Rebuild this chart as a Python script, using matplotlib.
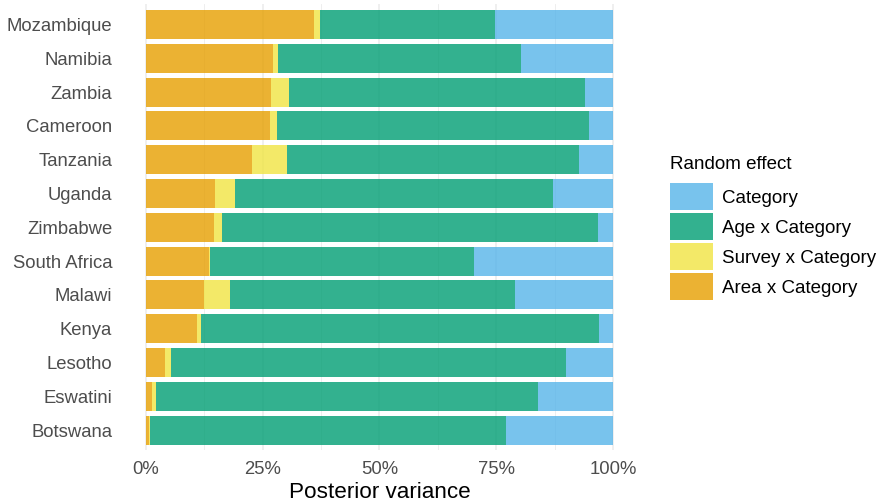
import matplotlib.pyplot as plt
import matplotlib.patches as mpatches
import numpy as np

plt.rcParams['font.family'] = ['Liberation Sans', 'DejaVu Sans']

countries = ["Mozambique", "Namibia", "Zambia", "Cameroon", "Tanzania", "Uganda",
             "Zimbabwe", "South Africa", "Malawi", "Kenya", "Lesotho", "Eswatini", "Botswana"]

# shares in percent
area = [36.0, 27.3, 26.8, 26.6, 22.8, 14.8, 14.6, 13.6, 12.5, 11.0, 4.1, 1.4, 0.7]
survey = [1.3, 0.9, 3.8, 1.5, 7.3, 4.3, 1.7, 0.1, 5.5, 0.7, 1.3, 0.7, 0.2]
age = [37.4, 52.1, 63.4, 66.7, 62.6, 68.0, 80.4, 56.5, 61.0, 85.4, 84.5, 81.8, 76.1]
category = [100 - a - s - g for a, s, g in zip(area, survey, age)]

labels = ["Category", "Age x Category", "Survey x Category", "Area x Category"]
colors = ["#56B4E9", "#009E73", "#F0E442", "#E69F00"]

fig = plt.figure(figsize=(8.82, 5.04), dpi=100)
ax = fig.add_axes([0.139, 0.1065, 0.5825, 0.885])

y = np.arange(len(countries))[::-1]
left = np.zeros(len(countries))
# stack from the left: area, survey, age, category
for vals, col in [(area, colors[3]), (survey, colors[2]), (age, colors[1]), (category, colors[0])]:
    vals = np.array(vals) / 100
    ax.barh(y, vals, left=left, height=0.86, color=col, alpha=0.8, linewidth=0, zorder=2)
    left = left + vals

ax.set_xlim(-0.05, 1.05)
ax.set_ylim(-0.6, len(countries) - 0.4)
ax.set_yticks(y)
ax.set_yticklabels(countries)
ax.set_xticks([0, 0.25, 0.5, 0.75, 1.0])
ax.set_xticklabels(["0%", "25%", "50%", "75%", "100%"])
ax.set_xticks([0.125, 0.375, 0.625, 0.875], minor=True)
ax.grid(axis='x', which='major', color='#EBEBEB', linewidth=1.1, zorder=0)
ax.grid(axis='x', which='minor', color='#EBEBEB', linewidth=0.6, zorder=0)
ax.set_axisbelow(True)
for s in ax.spines.values():
    s.set_visible(False)
ax.tick_params(axis='both', which='both', length=0, labelsize=13.3, labelcolor='#4D4D4D')
ax.tick_params(axis='y', pad=7.5)
ax.tick_params(axis='x', pad=7.5)
ax.set_xlabel("Posterior variance", fontsize=16.2, color='black', labelpad=3)

handles = [mpatches.Patch(facecolor=c, alpha=0.8, linewidth=0) for c in colors]
leg = fig.legend(handles, labels, title="Random effect", loc='upper left',
                 bbox_to_anchor=(0.760, 0.690), frameon=False, fontsize=13.5,
                 title_fontsize=13.5, handlelength=2.25, handleheight=1.84,
                 labelspacing=0.16, handletextpad=0.53, borderpad=0,
                 borderaxespad=0)
leg._legend_box.align = "left"
leg._legend_box.sep = 7.2

fig.savefig("out.png", dpi=100)
